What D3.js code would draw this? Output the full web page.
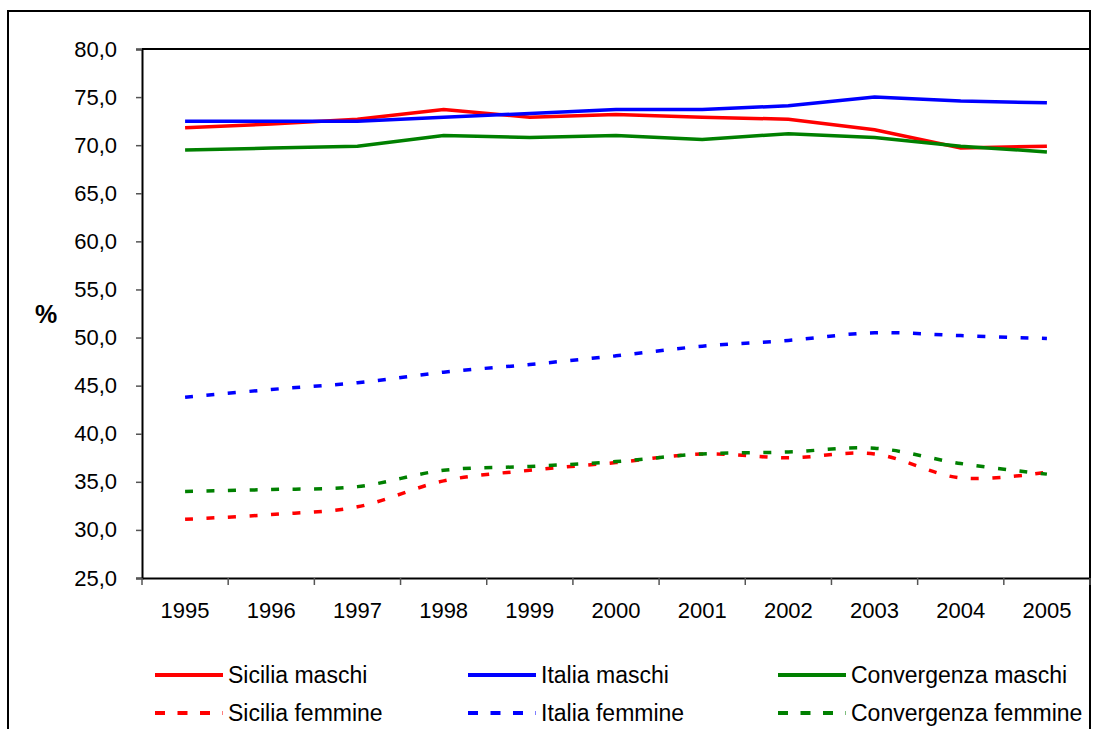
<!DOCTYPE html>
<html>
<head>
<meta charset="utf-8">
<script src="https://cdn.jsdelivr.net/npm/d3@7"></script>
<style>
  body { margin: 0; background: #fff; }
  text { font-family: "Liberation Sans", Arial, sans-serif; fill: #000; }
</style>
</head>
<body>
<svg></svg>
<script>
// values (%)
var years = ['1995', '1996', '1997', '1998', '1999', '2000', '2001', '2002', '2003', '2004', '2005']
var yTicks = [25, 30, 35, 40, 45, 50, 55, 60, 65, 70, 75, 80]

var siciliaMaschi = [71.8, 72.2, 72.7, 73.7, 72.9, 73.2, 72.9, 72.7, 71.6, 69.7, 69.9]
var italiaMaschi = [72.5, 72.5, 72.5, 72.9, 73.3, 73.7, 73.7, 74.1, 75.0, 74.6, 74.4]
var convergenzaMaschi = [69.5, 69.7, 69.9, 71.0, 70.8, 71.0, 70.6, 71.2, 70.8, 69.9, 69.3]
var siciliaFemmine = [31.1, 31.6, 32.4, 35.1, 36.2, 37.0, 37.9, 37.5, 37.9, 35.4, 36.0]
var italiaFemmine = [43.8, 44.6, 45.3, 46.4, 47.2, 48.1, 49.1, 49.7, 50.5, 50.2, 49.9]
var convergenzaFemmine = [34.0, 34.2, 34.5, 36.2, 36.6, 37.1, 37.9, 38.1, 38.5, 36.9, 35.8]

var series = [
  { name: 'Sicilia maschi', values: siciliaMaschi, color: '#ff0000', dashed: false },
  { name: 'Italia maschi', values: italiaMaschi, color: '#0000ff', dashed: false },
  { name: 'Convergenza maschi', values: convergenzaMaschi, color: '#008000', dashed: false },
  { name: 'Sicilia femmine', values: siciliaFemmine, color: '#ff0000', dashed: true },
  { name: 'Italia femmine', values: italiaFemmine, color: '#0000ff', dashed: true },
  { name: 'Convergenza femmine', values: convergenzaFemmine, color: '#008000', dashed: true }
]

var width = 1095
var height = 729
var plot = { left: 142, top: 49, right: 1090, bottom: 578 }

var svg = d3.select('svg')
  .attr('width', width)
  .attr('height', height)

// outer chart frame (its bottom edge is cut off in the picture)
svg.append('rect')
  .attr('x', 8).attr('y', 11)
  .attr('width', 1082).attr('height', 740)
  .attr('fill', 'none')
  .attr('stroke', '#000')
  .attr('stroke-width', 2)

var x = d3.scaleBand()
  .domain(years)
  .range([plot.left, plot.right])

var y = d3.scaleLinear()
  .domain([25, 80])
  .range([plot.bottom, plot.top])

// plot area border: top and right
svg.append('path')
  .attr('d', 'M' + plot.left + ',' + plot.top + 'H' + plot.right + 'V' + plot.bottom)
  .attr('fill', 'none')
  .attr('stroke', '#000')
  .attr('stroke-width', 2)

// y axis
var yAxis = svg.append('g')
  .attr('transform', 'translate(' + plot.left + ',0)')
  .call(d3.axisLeft(y)
    .tickValues(yTicks)
    .tickSize(6)
    .tickPadding(19)
    .tickFormat(d => d3.format('.1f')(d).replace('.', ',')))
yAxis.select('.domain').attr('stroke', '#000').attr('stroke-width', 2)
yAxis.selectAll('.tick line').attr('stroke', '#555').attr('stroke-width', 1.5)
yAxis.selectAll('.tick text')
  .attr('font-size', 22)
  .attr('font-family', '"Liberation Sans", Arial, sans-serif')
  .attr('fill', '#000')

// x axis, ticks sit between categories
var xAxis = svg.append('g')
  .attr('transform', 'translate(0,' + plot.bottom + ')')
  .call(d3.axisBottom(x).tickSize(0).tickPadding(24))
xAxis.select('.domain').attr('stroke', '#000').attr('stroke-width', 2)
xAxis.selectAll('.tick text')
  .attr('font-size', 22)
  .attr('font-family', '"Liberation Sans", Arial, sans-serif')
  .attr('fill', '#000')

var bounds = years.map(d => x(d)).concat([plot.right])
xAxis.selectAll('line.sep')
  .data(bounds)
  .enter().append('line')
  .attr('class', 'sep')
  .attr('x1', d => d).attr('x2', d => d)
  .attr('y1', 0).attr('y2', 7)
  .attr('stroke', '#555')
  .attr('stroke-width', 1.5)

// "%" axis title
svg.append('text')
  .attr('x', 46).attr('y', 323)
  .attr('text-anchor', 'middle')
  .attr('font-size', 25)
  .attr('font-weight', 'bold')
  .text('%')

// lines (dashed ones are smoothed, like in the original)
var lineStraight = d3.line()
  .x((d, i) => x(years[i]) + x.bandwidth() / 2)
  .y(d => y(d))

var lineSmooth = d3.line()
  .x((d, i) => x(years[i]) + x.bandwidth() / 2)
  .y(d => y(d))
  .curve(d3.curveCardinal.tension(0))

svg.append('g').selectAll('path')
  .data(series)
  .enter().append('path')
  .attr('d', s => s.dashed ? lineSmooth(s.values) : lineStraight(s.values))
  .attr('fill', 'none')
  .attr('stroke', s => s.color)
  .attr('stroke-width', 3.5)
  .attr('stroke-dasharray', s => s.dashed ? '8,13.5' : null)

// legend: 3 columns, 2 rows
var legendCols = [155, 468, 778]
var legendRows = [675, 713]

var legend = svg.append('g').selectAll('g')
  .data(series)
  .enter().append('g')
  .attr('transform', (s, i) => 'translate(' + legendCols[i % 3] + ',' + legendRows[Math.floor(i / 3)] + ')')

legend.append('line')
  .attr('x1', 0).attr('x2', 68)
  .attr('y1', 0).attr('y2', 0)
  .attr('stroke', s => s.color)
  .attr('stroke-width', 4)
  .attr('stroke-dasharray', s => s.dashed ? '10,12.5' : null)

legend.append('text')
  .attr('x', 73).attr('y', 8)
  .attr('font-size', 23)
  .text(s => s.name)
</script>
</body>
</html>
